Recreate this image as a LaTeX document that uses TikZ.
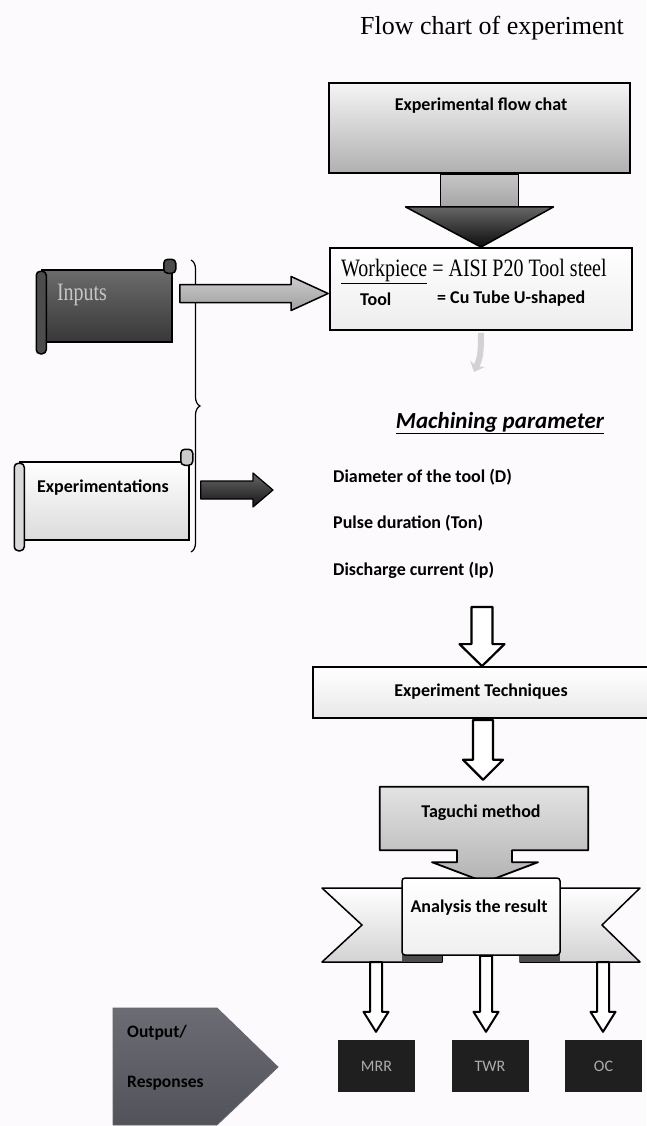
\documentclass[tikz,border=0pt]{standalone}
\usepackage{fontspec}
\setmainfont{Liberation Serif}
\newfontfamily\calfont{Carlito}
\newfontfamily\condserif[FakeStretch=0.8]{Liberation Serif}
\usetikzlibrary{calc,decorations.pathreplacing,arrows.meta}
\definecolor{bg}{RGB}{253,250,253}
\definecolor{outA}{RGB}{108,108,116}
\definecolor{outB}{RGB}{82,82,90}

\newcommand{\myvblock}[6]{%
  \path[#1] ($(#2)+(-#4,0)$) -- ($(#2)+(#4,0)$) -- ($(#2 |- #3)+(#4,-#6)$) -- ($(#2 |- #3)+(#5,-#6)$) -- (#2 |- #3) -- ($(#2 |- #3)+(-#5,-#6)$) -- ($(#2 |- #3)+(-#4,-#6)$) -- cycle;}
\newcommand{\myhblock}[6]{%
  \path[#1] ($(#2)+(0,-#4)$) -- ($(#2 -| #3)+(-#6,-#4)$) -- ($(#2 -| #3)+(-#6,-#5)$) -- (#2 -| #3) -- ($(#2 -| #3)+(-#6,#5)$) -- ($(#2 -| #3)+(-#6,#4)$) -- ($(#2)+(0,#4)$) -- cycle;}

\begin{document}
\begin{tikzpicture}[x=1pt,y=-1pt,
  box/.style={draw=black,line width=1.8pt,inner sep=0pt},
  lbl/.style={font=\calfont\bfseries\fontsize{18}{20}\selectfont,inner sep=0pt},
  lblb/.style={font=\calfont\bfseries\fontsize{18}{20}\selectfont,inner sep=0pt},
  serifc/.style={font=\condserif\fontsize{25}{28}\selectfont,inner sep=0pt},
  hollow/.style={draw=black,line width=2.2pt,fill=white,line join=round},
  darkbox/.style={fill=black!88,inner sep=0pt,minimum width=77pt,minimum height=52pt,font=\calfont\fontsize{16}{18}\selectfont,text=gray!65},
  roll/.style={draw=black,line width=1.5pt,rounded corners=4pt},
]
\fill[bg] (0,0) rectangle (646,1126);
\useasboundingbox (0,0) rectangle (646,1126);

% title
\node[font=\fontsize{26}{30}\selectfont,inner sep=0pt] (title) at (492,28) {Flow chart of experiment};

% experimental flow chat
\node[box,minimum width=301pt,minimum height=90pt,top color=gray!8,bottom color=gray!62] (fc) at (479.5,128) {};
\node[lbl] (fct) at (481,106) {Experimental flow chat};

% workpiece box
\node[box,minimum width=302pt,minimum height=82pt,top color=white,bottom color=gray!14] (wp) at (481,289) {};
\node[serifc,anchor=west] (wpa) at (341,271) {\underline{Workpiece} = AISI P20 Tool steel};
\node[lblb,anchor=west] (wpb) at (360,299) {Tool};
\node[lblb,anchor=west] (wpc) at (437,299) {= Cu Tube U-shaped};

% big arrow
\path[draw=black,line width=1.5pt,top color=gray!45,bottom color=gray!70] ($(fc.south)+(-39,0)$) rectangle ($(fc.south)+(39,33)$);
\path[draw=black,line width=1.5pt,top color=black!60,bottom color=black!95,line join=round] ($(fc.south)+(-74,33)$) -- ($(fc.south)+(74,33)$) -- (wp.north) -- cycle;

% small light arrow
\coordinate (ca) at (474,372);
\draw[gray!35,line width=6pt,-{Stealth[length=9pt,width=16pt]}] ($(wp.south)+(0,2)$) .. controls +(0,22) and +(6,-14) .. (ca);

% inputs scroll
\node[inner sep=0pt,minimum width=130pt,minimum height=72pt,draw=black,line width=1.5pt,top color=black!58,bottom color=black!78] (inp) at (107,306) {};
\path[roll,fill=black!70] ($(inp.north west)+(-5,2)$) rectangle ($(inp.south west)+(5,11)$);
\path[roll,fill=black!70] ($(inp.north east)+(-9,-10)$) rectangle ($(inp.north east)+(3,4)$);
\node[serifc,text=gray!45] (inpt) at (82,295) {Inputs};

% experimentations scroll
\node[inner sep=0pt,minimum width=169pt,minimum height=78pt,draw=black,line width=1.5pt,top color=white,bottom color=gray!28] (ex) at (104.5,501) {};
\path[roll,fill=gray!30] ($(ex.north west)+(-5,2)$) rectangle ($(ex.south west)+(5,10)$);
\path[roll,fill=gray!40] ($(ex.north east)+(-9,-12)$) rectangle ($(ex.north east)+(3,4)$);
\node[lbl] (ext) at (103,488) {Experimentations};

% brace
\draw[line width=1.2pt,decorate,decoration={brace,amplitude=9pt}] (191,260) -- (191,552);

% inputs arrow
\coordinate (ia) at ($(inp.east)+(7,-12.5)$);
\coordinate (ib) at ($(wp.west)+(-1,4.5)$);
\myhblock{draw=black,line width=1.5pt,top color=gray!40,bottom color=gray!75,line join=round}{ia}{ib}{9}{17}{37}

% experimentations arrow
\coordinate (ea) at ($(ex.east)+(11,-11)$);
\coordinate (eb) at (273,490);
\myhblock{draw=black,line width=1.2pt,top color=black!60,bottom color=black!92,line join=round}{ea}{eb}{9}{17}{20}

% machining parameters
\node[font=\calfont\bfseries\itshape\fontsize{23}{26}\selectfont,inner sep=0pt] (mp) at (500,423) {\underline{Machining parameter}};
\node[lbl,anchor=west] (diam) at (333,477) {Diameter of the tool (D)};
\node[lbl,anchor=west] (puls) at (333,523) {Pulse duration (Ton)};
\node[lbl,anchor=west] (disc) at (333,570) {Discharge current (Ip)};

% experiment techniques
\node[box,minimum width=343pt,minimum height=51pt,top color=white,bottom color=gray!18] (et) at (484.5,692.5) {};
\node[lbl] (ett) at (481,692) {Experiment Techniques};
\coordinate (a1s) at (482,607);
\myvblock{hollow}{a1s}{et.north}{10.5}{22.5}{22}

% taguchi callout
\node[inner sep=0pt,minimum width=208pt,minimum height=63pt] (tg) at (484,818.5) {};
\coordinate (a2s) at ($(et.south)+(-1.5,1)$);
\coordinate (a2e) at ($(tg.north)+(-1,-7)$);
\myvblock{hollow}{a2s}{a2e}{10}{20}{20}
\path[draw=black,line width=1.8pt,top color=gray!22,bottom color=gray!60,line join=round] (tg.north west) -- (tg.north east) -- (tg.south east) -- ($(tg.south)+(28,0)$) -- ($(tg.south)+(28,12)$) -- ($(tg.south)+(54,12)$) -- ($(tg.south)+(1,32)$) -- ($(tg.south)+(-52,12)$) -- ($(tg.south)+(-27,12)$) -- ($(tg.south)+(-27,0)$) -- (tg.south west) -- cycle;
\node[lbl] (tgt) at (481,813) {Taguchi method};

% ribbon
\path[draw=black,line width=1.5pt,top color=white,bottom color=gray!35,line join=round] (322,888) -- (442,888) -- (442,962) -- (322,962) -- (362,925) -- cycle;
\path[draw=black,line width=1.5pt,top color=white,bottom color=gray!35,line join=round] (520,888) -- (640,888) -- (602,925) -- (640,962) -- (520,962) -- cycle;
\fill[black!70] (402,955) rectangle (442,962);
\fill[black!70] (520,955) rectangle (560,962);
\node[box,line width=1.5pt,rounded corners=3pt,minimum width=158pt,minimum height=77pt,top color=white,bottom color=gray!12] (an) at (481,916.5) {};
\node[lbl] (ant) at (479,908) {Analysis the result};

% outputs
\node[darkbox] (mrr) at (376.5,1066) {MRR};
\node[darkbox] (twr) at (490,1066) {TWR};
\node[darkbox] (oc) at (603.5,1066) {OC};
\coordinate (r1) at (376,962);
\coordinate (r2) at ($(an.south)+(5,0)$);
\coordinate (r3) at (603,962);
\coordinate (t1) at ($(mrr.north)+(0,-8)$);
\coordinate (t2) at ($(twr.north)+(0,-8)$);
\coordinate (t3) at ($(oc.north)+(0,-8)$);
\myvblock{hollow,line width=2pt}{r1}{t1}{6}{12.5}{20}
\myvblock{hollow,line width=2pt}{r2}{t2}{6}{12.5}{20}
\myvblock{hollow,line width=2pt}{r3}{t3}{6}{12.5}{20}

% output / responses pentagon
\path[top color=outA,bottom color=outB,draw=black!60,line width=0.8pt] (113,1008) -- (217,1008) -- (278,1067) -- (217,1125) -- (113,1125) -- cycle;
\node[lbl,anchor=west,font=\calfont\bfseries\fontsize{17.5}{19}\selectfont] (out1) at (127,1033) {Output/};
\node[lbl,anchor=west,font=\calfont\bfseries\fontsize{17.5}{19}\selectfont] (out2) at (127,1083) {Responses};
\end{tikzpicture}
\end{document}
